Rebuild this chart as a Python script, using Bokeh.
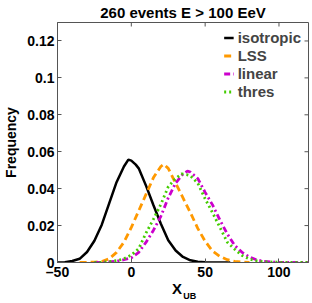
from bokeh.plotting import figure
from bokeh.models import Range1d, Legend, LegendItem, FixedTicker, LinearAxis
from bokeh.embed import file_html
from bokeh.resources import INLINE
import math

# ---- data ----
x_iso = [-50, -45, -40, -35, -30, -25, -20, -15, -10, -5, -2, 0, 3, 5, 10, 15, 20, 25, 30, 35, 40, 45, 50, 55, 60, 67]
y_iso = [0.0, 0.0002, 0.0008, 0.002, 0.0057, 0.0118, 0.0205, 0.032, 0.0435, 0.052, 0.0557, 0.0552, 0.053, 0.051, 0.0415, 0.031, 0.021, 0.012, 0.0065, 0.003, 0.0012, 0.0004, 0.0001, 0.0, 0.0, 0.0]

x_lss = [-35, -30, -25, -20, -15, -10, -5, 0, 5, 10, 15, 20, 22, 25, 30, 35, 40, 45, 50, 55, 60, 65, 70, 75, 80]
y_lss = [0.0, 0.0001, 0.0002, 0.0005, 0.002, 0.0055, 0.011, 0.019, 0.028, 0.037, 0.046, 0.052, 0.0532, 0.051, 0.043, 0.035, 0.027, 0.0185, 0.0115, 0.0062, 0.0033, 0.0015, 0.0006, 0.0002, 0.0]

x_lin = [-25, -20, -15, -10, -5, 0, 5, 10, 15, 20, 25, 30, 35, 38, 40, 45, 50, 55, 60, 65, 70, 75, 80, 85, 90, 95, 100, 110, 120]
y_lin = [0.0, 0.0001, 0.0003, 0.0007, 0.0015, 0.0025, 0.0055, 0.011, 0.0175, 0.025, 0.035, 0.043, 0.048, 0.0495, 0.049, 0.0455, 0.038, 0.0312, 0.023, 0.0155, 0.0093, 0.0055, 0.003, 0.0014, 0.0006, 0.0003, 0.0001, 0.0, 0.0]

x_thr = [-25, -20, -15, -10, -5, 0, 5, 10, 15, 20, 25, 30, 34, 38, 40, 45, 50, 55, 60, 65, 70, 75, 80, 85, 90, 100, 110, 120]
y_thr = [0.0, 0.0001, 0.0004, 0.001, 0.002, 0.004, 0.0075, 0.016, 0.0235, 0.0315, 0.041, 0.0455, 0.048, 0.0475, 0.047, 0.043, 0.0345, 0.027, 0.019, 0.011, 0.0072, 0.0038, 0.0019, 0.0009, 0.0004, 0.0001, 0.0, 0.0]

x_ticks = [-50, 0, 50, 100]
x_tick_labels = ["\u201350", "0", "50", "100"]
y_ticks = [0, 0.02, 0.04, 0.06, 0.08, 0.1, 0.12]
y_tick_labels = ["0", "0.02", "0.04", "0.06", "0.08", "0.1", "0.12"]

x_min, x_max = -50, 120
y_min, y_max = 0, 0.13

title_text = "260 events E > 100 EeV"
y_title = "Frequency"
x_title_main, x_title_sub = "X", "UB"
x_title_main_at, x_title_sub_at = 31, 39.5   # x positions (data units) of the two parts

series_names = ["isotropic", "LSS", "linear", "thres"]

FONT = "Liberation Sans"
FS = "14px"
AXC = "#555555"

p = figure(width=312, height=303, output_backend="svg", toolbar_location=None,
           x_range=Range1d(x_min, x_max), y_range=Range1d(y_min, y_max),
           min_border_left=51, min_border_right=4, min_border_top=21, min_border_bottom=0)

p.title.text = title_text
p.title.align = "center"
p.title.text_font = FONT
p.title.text_font_size = "15px"
p.title.text_font_style = "bold"
p.title.text_color = "black"
p.title.offset = 0
p.title.standoff = 3

p.grid.visible = False
p.background_fill_color = "white"
p.border_fill_color = "white"
p.outline_line_color = AXC
p.outline_line_width = 1

for ax in (p.xaxis[0], p.yaxis[0]):
    ax.major_tick_in = 4
    ax.major_tick_out = 0
    ax.minor_tick_line_color = None
    ax.axis_line_color = AXC
    ax.major_tick_line_color = AXC
    ax.major_label_text_font = FONT
    ax.major_label_text_font_size = FS
    ax.major_label_text_font_style = "bold"
    ax.major_label_text_color = "black"

xa = p.xaxis[0]
xa.ticker = FixedTicker(ticks=x_ticks)
xa.major_label_overrides = dict(zip(x_ticks, x_tick_labels))
xa.major_label_standoff = 1


def label_axis(pos, text, size, standoff):
    """An axis with no line and no tick marks whose single tick label is a text."""
    a = LinearAxis(ticker=FixedTicker(ticks=[pos]), major_label_overrides={pos: text},
                   axis_line_color=None, major_tick_line_color=None,
                   minor_tick_line_color=None, major_tick_in=0, major_tick_out=0,
                   major_label_standoff=standoff, major_label_text_font=FONT,
                   major_label_text_font_size=size, major_label_text_font_style="bold",
                   major_label_text_color="black")
    p.add_layout(a, "below")
    return a


label_axis(x_title_main_at, x_title_main, "15px", -3)
label_axis(x_title_sub_at, x_title_sub, "9px", -9)

ya = p.yaxis[0]
ya.ticker = FixedTicker(ticks=y_ticks)
ya.major_label_overrides = dict(zip(y_ticks, y_tick_labels))
ya.major_label_standoff = 3
ya.axis_label = y_title
ya.axis_label_text_font = FONT
ya.axis_label_text_font_size = FS
ya.axis_label_text_font_style = "bold"
ya.axis_label_text_color = "black"
ya.axis_label_standoff = 5

# mirrored inward ticks on the top and right edges (half of each dash is clipped by the frame)
p.scatter(x=x_ticks, y=[y_max] * len(x_ticks), marker="dash", angle=math.pi / 2, size=8,
          line_color=AXC, line_width=1)
p.scatter(x=[x_max] * len(y_ticks), y=y_ticks, marker="dash", size=8,
          line_color=AXC, line_width=1)

r_iso = p.line(x_iso, y_iso, line_color="black", line_width=2.5)
r_lss = p.line(x_lss, y_lss, line_color="#FF9900", line_width=2.8, line_dash="7 4")
r_lin = p.line(x_lin, y_lin, line_color="#CC00CC", line_width=2.8, line_dash="6 3 2 3")
r_thr = p.line(x_thr, y_thr, line_color="#44CC00", line_width=2.8, line_dash="2 3")

legend = Legend(items=[LegendItem(label=n, renderers=[r]) for n, r in
                       zip(series_names, [r_iso, r_lss, r_lin, r_thr])],
                location="top_right", margin=0, padding=7, spacing=1,
                glyph_width=10, glyph_height=17, label_height=17, label_standoff=4,
                label_text_font=FONT, label_text_font_size="15px", label_text_font_style="bold",
                background_fill_alpha=0, border_line_alpha=0)
p.add_layout(legend)

open("out.html", "w").write(file_html(p, INLINE))
